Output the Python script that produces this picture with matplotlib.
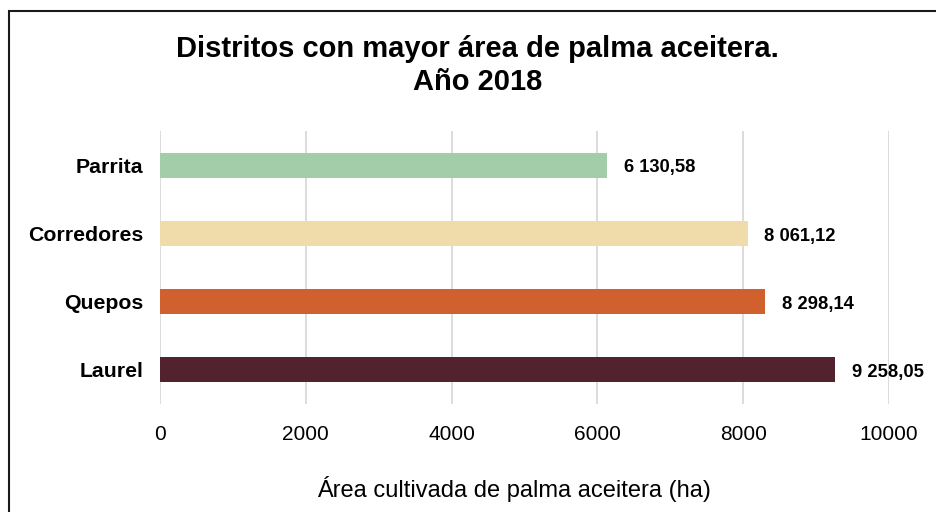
import matplotlib.pyplot as plt
from matplotlib.patches import Rectangle

# data, bottom to top
distritos = ["Laurel", "Quepos", "Corredores", "Parrita"]
area_ha = [9258.05, 8298.14, 8061.12, 6130.58]
etiquetas = ["9 258,05", "8 298,14", "8 061,12", "6 130,58"]
colores = ["#52222E", "#D0602E", "#F0DCAA", "#A2CDA8"]
xticks = [0, 2000, 4000, 6000, 8000, 10000]

plt.rcParams["font.family"] = ["Liberation Sans", "DejaVu Sans"]

fig = plt.figure(figsize=(9.36, 5.12), dpi=100)
ax = fig.add_axes([0.1709, 0.2109, 0.7789, 0.5332])

y = list(range(len(distritos)))
ax.barh(y, area_ha, height=0.366, color=colores, zorder=3)

for yi, v, lab in zip(y, area_ha, etiquetas):
    ax.annotate(lab, (v, yi), xytext=(12, -2), textcoords="offset points",
                ha="left", va="center", fontsize=13.2, fontweight="bold")

ax.set_xlim(0, 10000)
ax.set_ylim(-0.5, 3.5)
ax.set_xticks(xticks)
ax.set_xticklabels([str(t) for t in xticks], fontsize=15)
ax.set_yticks(y)
ax.set_yticklabels(distritos, fontsize=15.3, fontweight="bold")
ax.tick_params(length=0, pad=12)
ax.tick_params(axis="x", pad=15)
ax.grid(axis="x", color="#D9D9D9", linewidth=1.3, zorder=0)
for s in ax.spines.values():
    s.set_visible(False)

ax.set_xlabel("Área cultivada de palma aceitera (ha)", fontsize=17)
ax.xaxis.set_label_coords(0.486, -0.263)

fig.text(0.51, 0.872, "Distritos con mayor área de palma aceitera.\nAño 2018",
         ha="center", va="center", fontsize=21, fontweight="bold", linespacing=1.22)

# outer border of the chart (right and bottom edges are cut off)
fig.patches.append(Rectangle((8.5 / 936, -0.1), 1.2, 1 - 10.5 / 512 + 0.1,
                             transform=fig.transFigure, fill=False,
                             edgecolor="#1a1a1a", linewidth=1.5))

fig.savefig("out.png", dpi=100)
